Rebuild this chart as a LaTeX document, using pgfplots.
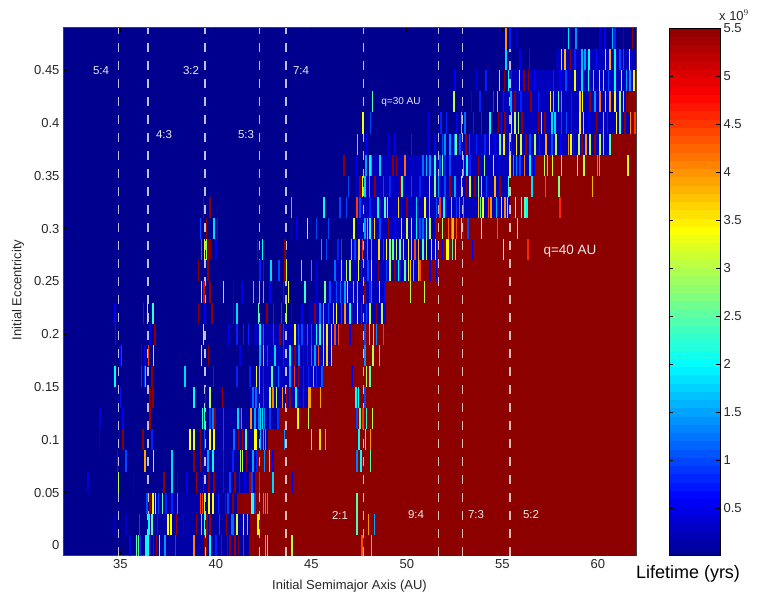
\documentclass[border=0pt]{standalone}
\usepackage{fontspec}
\setmainfont{Liberation Sans}
\usepackage{pgfplots}
\pgfplotsset{compat=1.18}
\definecolor{mb}{rgb}{0,0,0.74}
\definecolor{lb}{rgb}{0,0,0.65}
\definecolor{rb}{rgb}{0.55,0,0}
\pgfdeclareplotmark{st}{\pgfpathrectangle{\pgfpoint{-0.75pt}{-10.56pt}}{\pgfpoint{1.5pt}{21.12pt}}\pgfusepathqfill}
\pgfplotsset{
 rband/.style={forget plot,mark=none,rb,line width=21.3pt},
 bband/.style={forget plot,mark=none,mb,line width=21.3pt},
 dband/.style={forget plot,mark=none,lb,line width=21.3pt},
 res/.style={forget plot,mark=none,white,opacity=0.75,line width=1.2pt,dash pattern=on 9pt off 9pt},
}
\begin{document}
\begin{tikzpicture}
\path[use as bounding box] (0,0) rectangle (757pt,596pt);
\begin{axis}[
 at={(63pt,40pt)},anchor=south west,scale only axis,width=573pt,height=528pt,
 xmin=32,xmax=62,ymin=-0.01,ymax=0.49,
 axis background/.style={fill={rgb,1:red,0;green,0;blue,0.5625}},
 xtick={35,40,45,50,55,60},ytick={0,0.05,0.1,0.15,0.2,0.25,0.3,0.35,0.4,0.45},
 yticklabel style={/pgf/number format/fixed,/pgf/number format/precision=2},
 /pgf/number format/assume math mode=true,
 tick align=inside,tick style={black,line width=0.7pt},major tick length=4pt,
 axis line style={line width=1pt,black!75},
 ticklabel style={font=\fontsize{13}{15}\selectfont,text=black!85},
 xlabel={Initial Semimajor Axis (AU)},ylabel={Initial Eccentricity},
 every axis x label/.style={at={(axis description cs:0.5,-0.057)},anchor=center,font=\fontsize{13}{15}\selectfont,text=black!85},
 every axis y label/.style={at={(axis description cs:-0.0785,0.504)},anchor=center,rotate=90,font=\fontsize{13}{15}\selectfont,text=black!85},
 point meta min=0,point meta max=5.5,
 colormap={mine}{rgb(0)=(0,0,0.5625) rgb(7)=(0,0,1) rgb(23)=(0,1,1) rgb(39)=(1,1,0) rgb(55)=(1,0,0) rgb(63)=(0.55,0,0)},
 colorbar sampled,
 colorbar style={samples=65,at={(1.0576,0)},anchor=south west,scale only axis,width=51pt,height=528pt,
  ytick={0.5,1,1.5,2,2.5,3,3.5,4,4.5,5,5.5},
  yticklabel pos=right,tick align=inside,major tick length=4pt,
  tick style={black,line width=0.7pt},
  axis line style={line width=1pt,black},
  /pgf/number format/assume math mode=true,
  yticklabel style={font=\fontsize{13}{15}\selectfont,text=black!85,/pgf/number format/fixed,/pgf/number format/precision=1},
  scaled y ticks=false},
]
% blue bands
\addplot[dband] coordinates {(36.5,0)(41.75,0)};
\addplot[dband] coordinates {(36.5,0.02)(41.8,0.02)};
\addplot[dband] coordinates {(36.5,0.04)(41.1,0.04)};
\addplot[dband] coordinates {(39,0.06)(42.05,0.06)};
\addplot[dband] coordinates {(39,0.08)(42.2,0.08)};
\addplot[dband] coordinates {(40,0.1)(42.75,0.1)};
\addplot[dband] coordinates {(40,0.12)(43.3,0.12)};
\addplot[bband] coordinates {(41.8,0.14)(45,0.14)};
\addplot[bband] coordinates {(47.3,0.14)(48.3,0.14)};
\addplot[bband] coordinates {(42,0.16)(45.6,0.16)};
\addplot[bband] coordinates {(47,0.16)(48.3,0.16)};
\addplot[bband] coordinates {(42.5,0.18)(46.1,0.18)};
\addplot[bband] coordinates {(47.5,0.18)(48.5,0.18)};
\addplot[bband] coordinates {(42,0.2)(46.45,0.2)};
\addplot[bband] coordinates {(47,0.2)(48.4,0.2)};
\addplot[bband] coordinates {(44.9,0.22)(48.9,0.22)};
\addplot[bband] coordinates {(45.9,0.24)(48.9,0.24)};
\addplot[bband] coordinates {(46.2,0.26)(50.75,0.26)};
\addplot[bband] coordinates {(47,0.28)(51.6,0.28)};
\addplot[bband] coordinates {(47.4,0.3)(51.5,0.3)};
\addplot[bband] coordinates {(47.3,0.32)(55.4,0.32)};
\addplot[bband] coordinates {(47.3,0.34)(55.4,0.34)};
\addplot[bband] coordinates {(48,0.36)(56.7,0.36)};
\addplot[bband] coordinates {(52.1,0.38)(60.7,0.38)};
\addplot[bband] coordinates {(54.7,0.4)(61.7,0.4)};
\addplot[bband] coordinates {(55,0.42)(61.6,0.42)};
\addplot[bband] coordinates {(55.4,0.44)(62,0.44)};
\addplot[bband] coordinates {(57.8,0.46)(62,0.46)};
% red bands
\addplot[rband] coordinates {(41.75,0)(62,0)};
\addplot[rband] coordinates {(41.8,0.02)(62,0.02)};
\addplot[rband] coordinates {(41.1,0.04)(62,0.04)};
\addplot[rband] coordinates {(42.05,0.06)(62,0.06)};
\addplot[rband] coordinates {(42.2,0.08)(62,0.08)};
\addplot[rband] coordinates {(42.75,0.1)(62,0.1)};
\addplot[rband] coordinates {(43.3,0.12)(62,0.12)};
\addplot[rband] coordinates {(45,0.14)(62,0.14)};
\addplot[rband] coordinates {(45.6,0.16)(62,0.16)};
\addplot[rband] coordinates {(46.1,0.18)(62,0.18)};
\addplot[rband] coordinates {(46.45,0.2)(62,0.2)};
\addplot[rband] coordinates {(48.9,0.22)(62,0.22)};
\addplot[rband] coordinates {(48.9,0.24)(62,0.24)};
\addplot[rband] coordinates {(50.75,0.26)(62,0.26)};
\addplot[rband] coordinates {(51.6,0.28)(62,0.28)};
\addplot[rband] coordinates {(51.5,0.3)(62,0.3)};
\addplot[rband] coordinates {(55.4,0.32)(62,0.32)};
\addplot[rband] coordinates {(55.4,0.34)(62,0.34)};
\addplot[rband] coordinates {(56.7,0.36)(62,0.36)};
\addplot[rband] coordinates {(60.7,0.38)(62,0.38)};
\addplot[rband] coordinates {(61.7,0.4)(62,0.4)};
\addplot[rband] coordinates {(61.6,0.42)(62,0.42)};
% stripes
\addplot[scatter,only marks,mark=st,scatter src=explicit,forget plot] table[x=x,y=y,meta=z] {
x y z
35.5 0 .5
35.85 0 2.5
35.95 0 2.5
36.05 0 .8
36.35 0 2
36.45 0 2
36.75 0 5.5
36.9 0 5.5
37.05 0 3
37.35 0 1.4
37.9 0 1
38.85 0 4.1
39.4 0 5.5
39.5 0 5.5
39.7 0 2
40 0 .8
40.3 0 .8
40.6 0 5.5
40.75 0 5.5
41 0 5.4
41.2 0 5.5
41.45 0 1
42.6 0 4
42.7 0 2.5
44 0 3
47.65 0 4.4
48.15 0 3.9
34.7 .02 .3
35.3 .02 .3
36 .02 1
36.5 .02 2
36.65 .02 2.5
36.95 .02 5.5
37.5 .02 3.4
37.65 .02 3.4
37.95 .02 5.4
38.3 .02 .5
39 .02 5.5
39.25 .02 2.3
39.4 .02 2.3
39.55 .02 5.4
39.7 .02 5.4
40.2 .02 1
40.55 .02 5.5
40.85 .02 1.2
40.9 .02 1.2
41.1 .02 3.2
41.45 .02 3
41.65 .02 3.9
42.2 .02 3.4
47.4 .02 2.4
48 .02 4
48.3 .02 1.5
36.4 .04 1
36.55 .04 5.5
36.7 .04 3.4
36.85 .04 3
37 .04 1
37.2 .04 2.5
37.4 .04 .8
37.7 .04 .8
38 .04 1.5
39.2 .04 4.5
39.3 .04 4.5
39.4 .04 3
39.65 .04 3.4
39.85 .04 3.4
40.15 .04 .8
40.5 .04 5.5
40.65 .04 1
40.9 .04 5.5
41.9 .04 2.5
41.95 .04 2.3
42.05 .04 1
42.5 .04 1.6
42.6 .04 1.6
42.7 .04 1.6
47.4 .04 2.5
33.3 .06 .4
34.9 .06 3
35.7 .06 .3
37.3 .06 5.5
37.7 .06 1.8
38 .06 .6
38.5 .06 .6
39 .06 5.4
39.35 .06 5.5
39.65 .06 5.5
39.9 .06 5.5
40.4 .06 5.5
40.75 .06 1
41 .06 5.5
41.25 .06 5.5
41.5 .06 .6
41.8 .06 5.4
41.9 .06 1
42.3 .06 1.2
43 .06 1.8
44 .06 .5
34.85 .08 5.5
35.3 .08 1
36.3 .08 3.9
36.75 .08 3
37.7 .08 1.8
38.85 .08 5.5
39.2 .08 5.5
39.6 .08 1.5
39.85 .08 2
40.4 .08 .8
40.9 .08 .8
41.3 .08 3
41.4 .08 3
41.6 .08 5.4
41.95 .08 1.5
42.15 .08 .8
42.55 .08 1.4
42.8 .08 2.6
43 .08 .6
47.4 .08 1.3
47.6 .08 2
48.1 .08 2.5
33.9 .1 .4
34.95 .1 .6
35.15 .1 5.5
36.2 .1 5.5
36.65 .1 .8
38.65 .1 3.4
38.85 .1 3.2
39.2 .1 5.5
39.4 .1 1
39.7 .1 3.4
39.9 .1 3.4
40.4 .1 1
40.95 .1 1.2
41.2 .1 5.4
41.4 .1 5.4
41.55 .1 2.5
41.6 .1 2.5
42.05 .1 3.4
42.1 .1 3.4
42.35 .1 1.6
42.5 .1 1.6
42.6 .1 1.6
43.6 .1 1.4
43.85 .1 .5
44.6 .1 .5
45 .1 2.5
45.45 .1 3.6
45.75 .1 4
47.5 .1 2
47.85 .1 2.5
48.1 .1 4
33.95 .12 .4
35.15 .12 .6
36.55 .12 5.4
39.3 .12 2.3
39.4 .12 2.3
39.7 .12 1
39.85 .12 1.3
39.95 .12 5.5
40.4 .12 1
41.15 .12 1.8
41.35 .12 1.5
41.85 .12 4
42.05 .12 1.5
42.25 .12 1.3
42.35 .12 1.8
42.45 .12 1.8
42.55 .12 1.3
42.85 .12 .9
43.25 .12 .9
44.3 .12 3.4
44.85 .12 3
47.4 .12 1
47.55 .12 2.5
47.7 .12 4.5
47.9 .12 2.3
48.2 .12 3
35 .14 .7
36.55 .14 5.5
36.7 .14 5.5
38.85 .14 2
39.45 .14 5.5
39.7 .14 3
40.35 .14 5.4
41.95 .14 1.2
42.1 .14 1.2
42.5 .14 1
42.85 .14 3
43 .14 4.1
43.19 .14 3
43.5 .14 4
43.7 .14 5.4
43.89 .14 5.5
44.2 .14 2
44.59 .14 .8
44.85 .14 3.9
44.93 .14 3.9
45.49 .14 3.9
47.34 .14 2
47.46 .14 2
47.81 .14 1
48.08 .14 5.5
48.28 .14 5.5
34.73 .16 2
36.12 .16 .9
36.3 .16 .9
36.33 .16 1.8
36.65 .16 5.5
38.39 .16 1.8
39.87 .16 .8
41.1 .16 .8
41.79 .16 .8
42.14 .16 3.3
42.28 .16 2
42.49 .16 .8
42.93 .16 2.5
43.28 .16 1.2
43.89 .16 1.5
44.11 .16 4.5
44.32 .16 5.4
44.59 .16 5.4
44.85 .16 .8
45.11 .16 2
45.28 .16 .8
45.55 .16 1.1
47.12 .16 .5
47.41 .16 .5
47.64 .16 .8
47.9 .16 3
48.08 .16 2.5
48.25 .16 .8
34.99 .18 .6
35.07 .18 1
36.12 .18 .5
36.3 .18 .5
36.47 .18 4.5
36.73 .18 3.6
39.26 .18 3
39.61 .18 5.5
41.27 .18 .5
42.32 .18 1.5
42.49 .18 2
42.7 .18 1
43.1 .18 1.8
43.54 .18 .8
43.89 .18 2
44.15 .18 5.5
44.36 .18 1.3
44.59 .18 .6
44.81 .18 5.5
45.02 .18 1.3
45.2 .18 1.5
45.37 .18 4.4
45.63 .18 3.6
45.81 .18 3.6
46.07 .18 3.6
47.52 .18 5.5
47.81 .18 1.4
48.22 .18 3
48.56 .18 2
34.76 .2 5.5
36.56 .2 .5
36.82 .2 5.5
39.35 .2 3
40.66 .2 .6
41.1 .2 .8
41.44 .2 .8
41.7 .2 .8
42.32 .2 2
42.49 .2 1.2
43.01 .2 1
43.36 .2 5.5
43.54 .2 1
44.15 .2 3.4
44.32 .2 1
44.5 .2 1
44.79 .2 1.2
45.02 .2 1
45.28 .2 2
45.46 .2 2.3
45.63 .2 3
45.81 .2 3.5
46.07 .2 3
46.24 .2 4.4
46.42 .2 4.4
47.03 .2 .5
47.2 .2 .5
47.46 .2 5.5
47.64 .2 .8
47.81 .2 1
48.04 .2 3.9
48.25 .2 2.5
48.42 .2 1.4
48.77 .2 4.5
34.73 .22 .6
36.21 .22 .8
36.42 .22 3
36.7 .22 2.3
39.09 .22 5.5
39.44 .22 .6
39.79 .22 5.5
40.92 .22 5.5
41.1 .22 1.8
42.23 .22 2.5
42.67 .22 5.5
43.01 .22 .8
43.45 .22 1
43.71 .22 3
43.97 .22 .6
44.5 .22 .6
45.2 .22 5.5
45.46 .22 1.3
45.63 .22 1.8
45.89 .22 1
46.16 .22 2.5
46.33 .22 3.4
46.59 .22 1
46.77 .22 4
47.03 .22 2.2
47.41 .22 3.4
47.64 .22 .8
47.9 .22 1
48.08 .22 3
48.42 .22 5.5
48.69 .22 3
48.86 .22 .6
39.26 .24 3
39.38 .24 5
39.7 .24 5.5
40.4 .24 2.6
40.92 .24 .5
41.36 .24 .5
41.97 .24 1.8
42.28 .24 2
42.49 .24 1.8
42.84 .24 .6
43.54 .24 5.5
43.8 .24 3.3
44.67 .24 2.3
45.28 .24 .5
45.72 .24 2.6
45.98 .24 1
46.33 .24 1
46.54 .24 1.2
46.77 .24 1.5
46.89 .24 3
47.2 .24 2
47.41 .24 2
47.81 .24 5.5
48.08 .24 .8
48.16 .24 1.3
48.56 .24 3.6
48.86 .24 .7
50.2 .24 3
50.92 .24 3
39.1 .26 5.5
39.6 .26 5.5
42.32 .26 .8
42.5 .26 5.5
42.9 .26 1.8
43.3 .26 1
43.62 .26 5.4
43.7 .26 3
44.49 .26 2.3
45.02 .26 1.4
45.28 .26 .5
46.24 .26 1.2
46.59 .26 2.6
46.85 .26 3
47.03 .26 3
47.46 .26 3.3
47.64 .26 5.5
47.98 .26 1
48.16 .26 3.3
48.51 .26 5.5
48.94 .26 1
49.12 .26 3
49.38 .26 5.5
49.56 .26 2
49.9 .26 2.5
50.08 .26 3.3
50.2 .26 3.7
50.34 .26 4
50.6 .26 3.8
50.69 .26 4.4
51.21 .26 .5
51.56 .26 .5
39.25 .28 4.6
39.4 .28 3.3
39.5 .28 2.8
39.6 .28 5.5
39.7 .28 5.5
40 .28 .5
42.18 .28 5.5
42.45 .28 2
43.62 .28 5.5
45.54 .28 1.5
45.8 .28 1
46.41 .28 .8
46.59 .28 1
47.11 .28 2.3
47.29 .28 1
47.51 .28 3.6
47.69 .28 4.5
47.93 .28 1.5
48.16 .28 1.8
48.54 .28 3.6
48.77 .28 1
48.94 .28 3.4
49.12 .28 2.8
49.29 .28 2.6
49.47 .28 3
49.64 .28 2.6
49.82 .28 3
50.08 .28 3.4
50.25 .28 3.6
50.43 .28 4.4
50.6 .28 3.8
50.86 .28 2.5
51.04 .28 3
51.3 .28 3
51.51 .28 3.5
51.85 .28 .6
52.1 .28 3.4
52.15 .28 3.4
52.4 .28 2.5
52.55 .28 3
53.45 .28 .6
55.05 .28 3.3
56.35 .28 4.6
39.2 .3 1
39.5 .3 5.5
39.9 .3 1.8
40.1 .3 5.5
43.97 .3 .4
44.23 .3 .5
44.79 .3 3
45.28 .3 1
45.89 .3 1
47.23 .3 3.3
47.81 .3 1.5
47.93 .3 2
48.07 .3 2.2
48.3 .3 3.7
48.6 .3 1
49.03 .3 5.5
49.38 .3 .6
49.73 .3 3
50 .3 3.2
50.25 .3 3
50.52 .3 2
50.69 .3 1
50.86 .3 1.2
51.04 .3 2.4
51.21 .3 3
51.56 .3 5.5
51.86 .3 2.8
52.17 .3 4.3
52.35 .3 4.3
52.43 .3 3.8
52.61 .3 4.4
52.87 .3 2.8
52.96 .3 .9
53.2 .3 1
53.92 .3 3.5
54.76 .3 4.4
55.8 .3 2.7
39.35 .32 5.5
39.7 .32 5.5
43.97 .32 1.8
45.66 .32 2
46.5 .32 1
46.85 .32 1
47.4 .32 4.5
47.55 .32 1
48.07 .32 .8
48.5 .32 2
48.86 .32 2.4
48.98 .32 2.6
49.56 .32 3.6
49.73 .32 .6
50 .32 5.5
50.52 .32 1.8
50.95 .32 3.4
51.2 .32 2.2
51.56 .32 1
51.74 .32 4.5
51.96 .32 2
52.35 .32 2.2
52.6 .32 .9
52.75 .32 1.5
52.96 .32 1.5
53.75 .32 3.8
53.87 .32 2.3
54 .32 3.4
54.28 .32 4.4
54.4 .32 4
54.7 .32 1.6
54.97 .32 3.5
55.14 .32 4
55.28 .32 3.6
55.7 .32 3.3
56 .32 3
56.2 .32 2.5
56.3 .32 2
58.03 .32 4.6
46.94 .34 1
47.55 .34 5.5
47.67 .34 3.4
47.8 .34 1.8
48.04 .34 1.5
48.33 .34 5.5
48.77 .34 1
49.12 .34 .8
49.68 .34 5.5
49.76 .34 2.3
50.25 .34 1
50.69 .34 .8
51.2 .34 2.8
51.47 .34 2.8
51.65 .34 1.4
52 .34 1
52.26 .34 5.5
52.52 .34 1.5
52.87 .34 3.5
53.13 .34 5.5
53.31 .34 3.2
53.57 .34 5.5
53.75 .34 2.8
53.92 .34 2.8
54.18 .34 1
54.62 .34 3.8
54.88 .34 5.5
55.32 .34 2.4
56.55 .34 1.8
57.27 .34 4.4
57.97 .34 2.7
59.72 .34 3.8
46.71 .36 5.5
47.37 .36 .6
47.86 .36 1.5
48.07 .36 2
48.16 .36 1.5
48.6 .36 1.8
49.29 .36 5.5
49.47 .36 5.5
49.9 .36 4.2
50.34 .36 .5
50.86 .36 1.2
51.04 .36 1.6
51.21 .36 1.4
51.47 .36 2.3
51.74 .36 1
51.86 .36 2.6
52 .36 .8
52.26 .36 1
52.96 .36 1.8
53.14 .36 2
53.31 .36 .8
53.75 .36 5.5
54.06 .36 2.8
54.53 .36 3.2
54.79 .36 .5
55.4 .36 3.5
55.58 .36 1.5
55.75 .36 1.3
55.93 .36 1
56.16 .36 4.2
56.45 .36 2
56.68 .36 .6
57.2 .36 3
57.36 .36 2.5
57.62 .36 3.2
57.88 .36 5.4
58.11 .36 2.8
58.93 .36 3
59.28 .36 3
59.98 .36 4.2
60.08 .36 4
61.57 .36 3.2
47.41 .38 2
47.9 .38 .6
49.03 .38 .5
49.38 .38 .6
50.25 .38 .8
51.13 .38 .5
51.47 .38 .5
51.88 .38 1
52 .38 1.4
52.26 .38 1.4
52.5 .38 1.4
52.58 .38 2.6
52.79 .38 1
53.1 .38 5.5
53.28 .38 1
53.66 .38 .8
54.1 .38 .8
54.32 .38 2.4
54.62 .38 .6
54.88 .38 2.6
55.1 .38 3.5
55.37 .38 2
55.49 .38 5.5
55.75 .38 3.5
55.98 .38 3.2
56.24 .38 5.5
56.45 .38 1
56.71 .38 3
56.94 .38 5.5
57.29 .38 3.9
57.59 .38 1
57.81 .38 3
58.07 .38 .6
58.46 .38 4
58.6 .38 3.2
58.72 .38 5.5
59.02 .38 3
59.16 .38 5.5
59.37 .38 4
59.59 .38 3
59.86 .38 5.5
60.12 .38 3
60.29 .38 2.5
60.64 .38 2.5
47.7 .4 3.3
48.1 .4 1
51.13 .4 .5
51.79 .4 .8
52.09 .4 .8
52.61 .4 .6
52.87 .4 4
53.05 .4 1.2
53.49 .4 .8
53.92 .4 .8
54.36 .4 2
54.79 .4 5.5
54.97 .4 5.5
55.14 .4 5.5
55.49 .4 3
55.67 .4 3
55.84 .4 3
56.02 .4 5.5
56.89 .4 5.5
57.06 .4 3
57.24 .4 5.5
57.59 .4 1.8
57.76 .4 1.8
58.11 .4 1
58.37 .4 1
58.63 .4 5.5
59.07 .4 3.5
59.24 .4 3
59.5 .4 .6
59.94 .4 5.5
60.29 .4 2
60.52 .4 .8
60.99 .4 3.4
61.16 .4 2.5
61.43 .4 5.5
61.72 .4 4
61.95 .4 4.5
48.2 .42 2.5
52.47 .42 3
53.4 .42 .6
53.83 .42 .8
54.53 .42 1
54.74 .42 2
55.06 .42 5.5
55.46 .42 1.5
55.67 .42 5.5
55.98 .42 .8
56.49 .42 5.5
56.89 .42 .8
57.53 .42 3.5
57.67 .42 2.2
57.94 .42 2.5
58.11 .42 1.6
58.63 .42 5.5
59.07 .42 3.7
59.21 .42 3.3
59.59 .42 5.5
59.86 .42 1.4
60.12 .42 4.2
60.41 .42 3.6
60.64 .42 4
60.9 .42 3.4
61.16 .42 2.8
61.34 .42 3
61.5 .42 5.5
52.53 .44 .6
53.66 .44 .4
54.15 .44 .8
54.85 .44 2.8
55.11 .44 5.5
55.32 .44 2
55.49 .44 5.5
55.89 .44 3
56.14 .44 5.5
56.36 .44 5.5
56.71 .44 .6
57.67 .44 .8
58.02 .44 .6
58.34 .44 1
58.81 .44 3.3
59.16 .44 1.8
59.5 .44 2.2
59.77 .44 2
60.08 .44 3
60.29 .44 2.7
60.55 .44 1
60.9 .44 2
61.25 .44 3.3
61.51 .44 1.5
61.69 .44 1.4
61.9 .44 3.5
55.2 .46 1.8
55.49 .46 .5
55.93 .46 .5
56.42 .46 5.5
58.11 .46 3
58.28 .46 3.8
58.58 .46 5.5
58.81 .46 .8
59.16 .46 1.6
59.33 .46 1.5
59.54 .46 2
59.94 .46 .7
60.41 .46 2.7
60.64 .46 3.9
60.9 .46 2
61.16 .46 1
61.34 .46 1
61.65 .46 3.3
61.77 .46 .6
55.2 .48 4
55.4 .48 .8
55.75 .48 .4
58.2 .48 .5
58.46 .48 1.9
58.86 .48 1.4
60.12 .48 .4
60.38 .48 .6
60.78 .48 1.6
60.9 .48 .8
61.34 .48 .6
61.81 .48 5.5
};
% resonances
\addplot[res] coordinates {(34.9,-0.01)(34.9,0.49)};
\addplot[res] coordinates {(36.45,-0.01)(36.45,0.49)};
\addplot[res] coordinates {(39.43,-0.01)(39.43,0.49)};
\addplot[res] coordinates {(42.27,-0.01)(42.27,0.49)};
\addplot[res] coordinates {(43.68,-0.01)(43.68,0.49)};
\addplot[res] coordinates {(47.72,-0.01)(47.72,0.49)};
\addplot[res] coordinates {(51.65,-0.01)(51.65,0.49)};
\addplot[res] coordinates {(52.92,-0.01)(52.92,0.49)};
\addplot[res] coordinates {(55.4,-0.01)(55.4,0.49)};
\end{axis}
\tikzset{lab/.style={text=white!92!black,font=\fontsize{11.5}{13}\selectfont}}
\node[lab] at (101pt,525pt) {5:4};
\node[lab] at (191pt,525pt) {3:2};
\node[lab] at (301pt,525pt) {7:4};
\node[lab] at (164pt,461pt) {4:3};
\node[lab] at (246pt,461pt) {5:3};
\node[lab,font=\fontsize{10}{12}\selectfont] at (401pt,494pt) {q=30 AU};
\node[lab,font=\fontsize{13.5}{15}\selectfont] at (570pt,345pt) {q=40 AU};
\node[lab] at (340pt,81pt) {2:1};
\node[lab] at (416pt,81pt) {9:4};
\node[lab] at (476pt,81pt) {7:3};
\node[lab] at (531pt,81pt) {5:2};
\node[font=\fontsize{18}{20}\selectfont,text=black] at (688pt,22pt) {Lifetime (yrs)};
\node[font=\fontsize{13}{15}\selectfont,text=black!85] at (734pt,581pt) {x 10$^{9}$};
\end{tikzpicture}
\end{document}
